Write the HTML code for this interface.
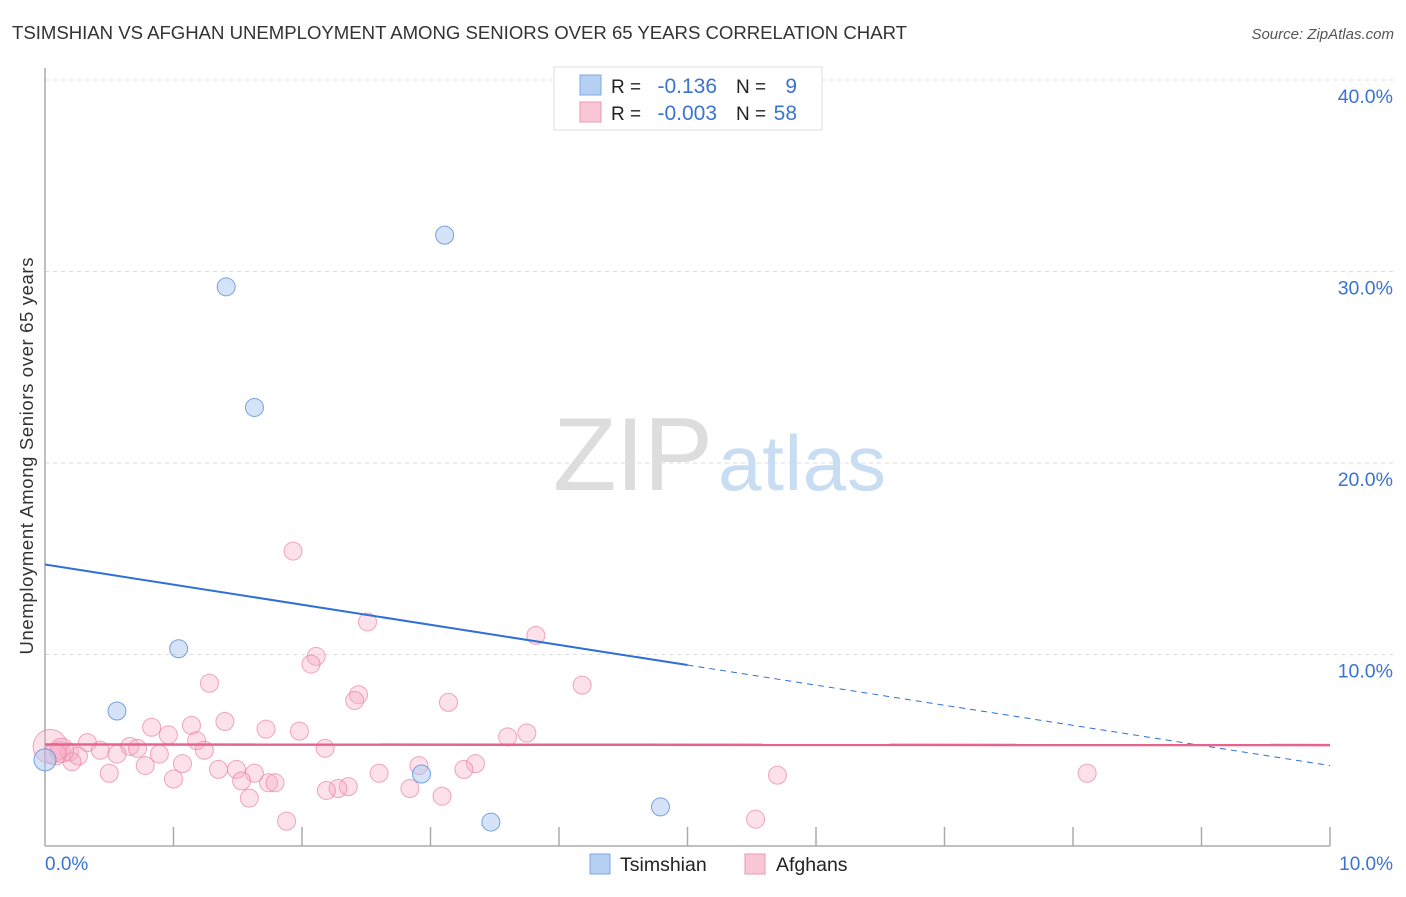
<!DOCTYPE html>
<html><head><meta charset="utf-8"><style>
body{margin:0;background:#fff;font-family:"Liberation Sans",sans-serif;}
svg text{font-family:"Liberation Sans",sans-serif;}
</style></head><body>
<svg id="chart" width="1406" height="892">
<text x="12" y="39" font-size="18.6" fill="#333" textLength="895">TSIMSHIAN VS AFGHAN UNEMPLOYMENT AMONG SENIORS OVER 65 YEARS CORRELATION CHART</text>
<text x="1394" y="39" font-size="15" fill="#555" font-style="italic" text-anchor="end">Source: ZipAtlas.com</text>
<g id="grid"></g>
<text x="553" y="490" font-size="104" fill="#ddd" font-family="Liberation Serif" textLength="160">ZIP</text>
<text x="718" y="490" font-size="78" fill="#c8dcf2" textLength="168">atlas</text>
<line x1="45" y1="68" x2="45" y2="846" stroke="#aaa" stroke-width="1.5"/>
<line x1="45" y1="846" x2="1330" y2="846" stroke="#aaa" stroke-width="1.5"/>
<g id="ticks"></g>
<g id="pts"></g>
<g id="lines"></g>
<text x="33" y="456" font-size="18.5" fill="#333" text-anchor="middle" textLength="397" transform="rotate(-90 33 456)">Unemployment Among Seniors over 65 years</text>
<text x="45" y="870" font-size="19" fill="#3b73d1">0.0%</text>
<text x="1393" y="870" font-size="19" fill="#3b73d1" text-anchor="end">10.0%</text>
<g>
<rect x="554" y="67" width="268" height="63" fill="#fff" stroke="#ddd"/>
<rect x="580" y="75" width="21" height="20" fill="#b5d0f3" stroke="#7fa8e0"/>
<rect x="580" y="102" width="21" height="20" fill="#f9c6d5" stroke="#ea97b0"/>
<text x="611" y="93" font-size="19" fill="#222">R =</text>
<text x="717" y="93" font-size="21" fill="#3b73d1" text-anchor="end">-0.136</text>
<text x="736" y="93" font-size="19" fill="#222">N =</text>
<text x="797" y="93" font-size="21" fill="#3b73d1" text-anchor="end">9</text>
<text x="611" y="120" font-size="19" fill="#222">R =</text>
<text x="717" y="120" font-size="21" fill="#3b73d1" text-anchor="end">-0.003</text>
<text x="736" y="120" font-size="19" fill="#222">N =</text>
<text x="797" y="120" font-size="21" fill="#3b73d1" text-anchor="end">58</text>
</g>
<g>
<rect x="590" y="854" width="20" height="20" fill="#b5d0f3" stroke="#7fa8e0"/>
<text x="620" y="871" font-size="19.5" fill="#222">Tsimshian</text>
<rect x="745" y="854" width="20" height="20" fill="#f9c6d5" stroke="#ea97b0"/>
<text x="776" y="871" font-size="19.5" fill="#222">Afghans</text>
</g>
</svg>
<script>
const yTicks=[10,20,30,40];
const yTickLabels=["10.0%","20.0%","30.0%","40.0%"];
const xTicks=[1,2,3,4,5,6,7,8,9,10];
const tsimX=[1.41,1.63,3.11,1.04,0.56,2.93,3.47,4.79,0.0];
const tsimY=[29.2,22.9,31.9,10.3,7.05,3.76,1.25,2.04,4.5];
const afgX=[1.93,2.51,3.82,2.11,2.07,1.28,4.18,2.44,2.41,3.14,0.83,1.40,1.14,1.72,1.98,0.96,3.75,3.6,0.33,1.18,0.66,0.72,0.43,0.12,0.19,0.56,0.89,2.18,1.24,0.26,0.78,1.07,0.21,2.91,3.35,3.26,1.35,1.49,1.63,2.6,0.5,1.0,1.53,1.74,1.79,2.36,2.28,2.19,2.84,3.09,1.59,1.88,5.53,5.7,8.11,0.04,0.13,0.08];
const afgY=[15.4,11.7,11.0,9.9,9.5,8.5,8.4,7.9,7.6,7.5,6.2,6.5,6.3,6.1,6.0,5.8,5.9,5.7,5.4,5.5,5.2,5.1,5.0,5.0,4.9,4.8,4.8,5.1,5.0,4.7,4.2,4.3,4.4,4.2,4.3,4.0,4.0,4.0,3.8,3.8,3.8,3.5,3.4,3.3,3.3,3.1,3.0,2.9,3.0,2.6,2.5,1.3,1.4,3.7,3.8,5.2,5.0,4.8];
const afgR=[9,9,9,9,9,9,9,9,9,9,9,9,9,9,9,9,9,9,9,9,9,9,9,9,9,9,9,9,9,9,9,9,9,9,9,9,9,9,9,9,9,9,9,9,9,9,9,9,9,9,9,9,9,9,9,17,12,11];
const tsimLine=[14.7,9.45,4.2];
const tsimLineX=[0,5,10];
const afgLine=[5.3,5.27];
const X=v=>45+v*128.5, Y=v=>846-v*19.15;
const NS="http://www.w3.org/2000/svg";
function mk(p,t,a){const e=document.createElementNS(NS,t);for(const k in a)e.setAttribute(k,a[k]);p.appendChild(e);return e;}
const grid=document.getElementById('grid');
yTicks.forEach((t,i)=>{
 const l=mk(grid,'line',{x1:45,x2:1393,y1:Y(t),y2:Y(t),stroke:'#ddd','stroke-dasharray':'4,4'});
 
 
 const tx=mk(grid,'text',{x:1393,y:Y(t)+23,'font-size':19.5,fill:'#3b73d1','text-anchor':'end'});
 tx.textContent=yTickLabels[i];
 
 
});
const ticks=document.getElementById('ticks');
xTicks.forEach(t=>{
 const l=mk(ticks,'line',{x1:X(t),x2:X(t),y1:827,y2:846,stroke:'#aaa','stroke-width':1.5});
 
 
});
const pts=document.getElementById('pts');
afgX.forEach((x,i)=>{
 const c=mk(pts,'circle',{cx:X(x),cy:Y(afgY[i]),r:afgR[i],fill:'rgba(246,170,195,0.35)',stroke:'rgba(234,130,165,0.7)','stroke-width':1});
 
 
});
tsimX.forEach((x,i)=>{
 const c=mk(pts,'circle',{cx:X(x),cy:Y(tsimY[i]),r:i==8?11:9,fill:'rgba(170,200,240,0.5)',stroke:'rgba(90,140,215,0.8)','stroke-width':1});
 
 
});
const lines=document.getElementById('lines');
let l=mk(lines,'line',{x1:X(tsimLineX[0]),y1:Y(tsimLine[0]),x2:X(tsimLineX[1]),y2:Y(tsimLine[1]),stroke:'#2f6fd6','stroke-width':2});


l=mk(lines,'line',{x1:X(tsimLineX[1]),y1:Y(tsimLine[1]),x2:X(tsimLineX[2]),y2:Y(tsimLine[2]),stroke:'#2f6fd6','stroke-width':1,'stroke-dasharray':'6,5'});


l=mk(lines,'line',{x1:X(0),y1:Y(afgLine[0]),x2:X(10),y2:Y(afgLine[1]),stroke:'#e8628e','stroke-width':2.5});


</script>
</body></html>
